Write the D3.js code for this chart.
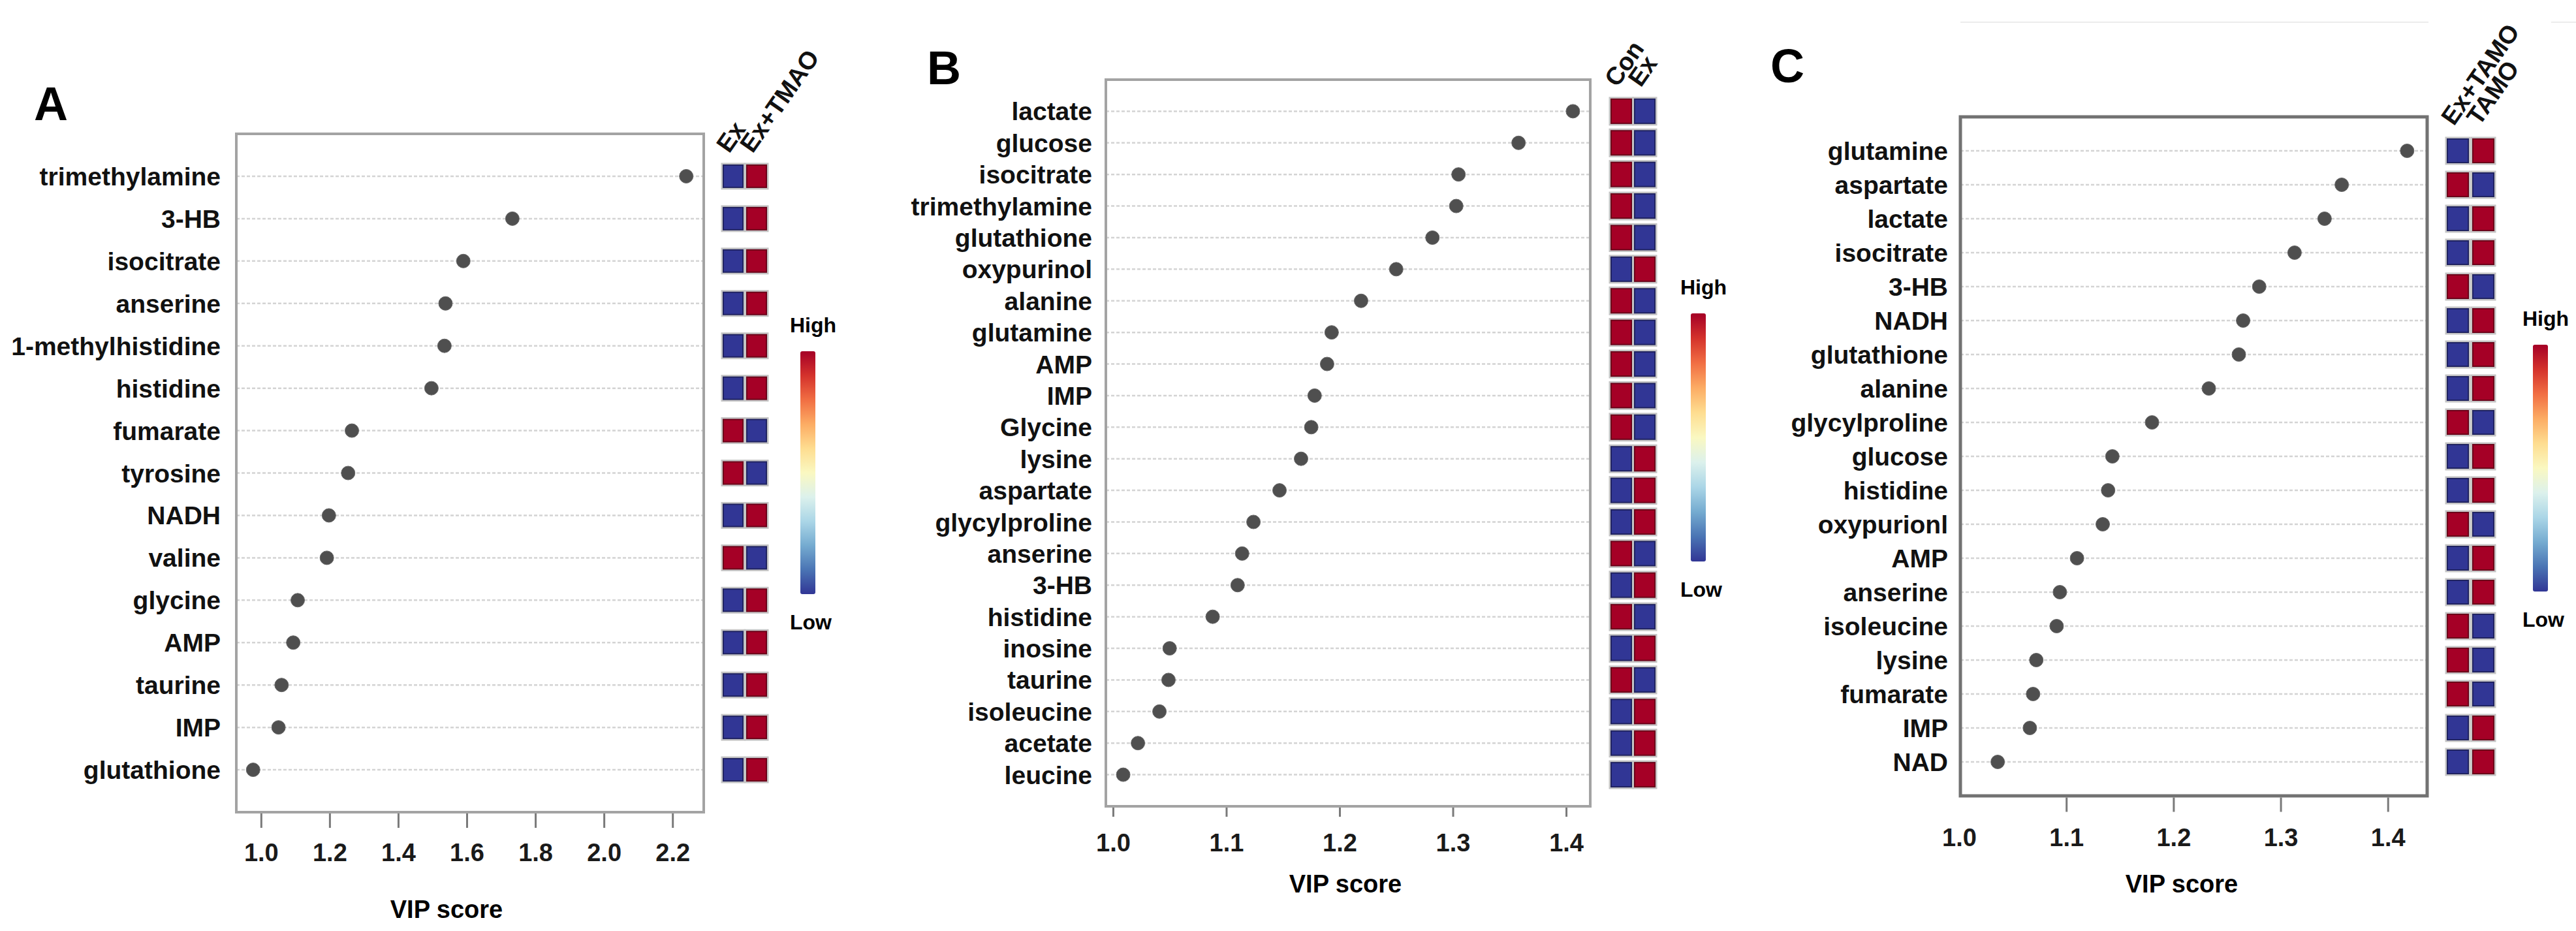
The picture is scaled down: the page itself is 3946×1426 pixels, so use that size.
<!DOCTYPE html>
<html>
<head>
<meta charset="utf-8">
<script src="https://cdn.jsdelivr.net/npm/d3@7"></script>
<style>
  html, body { margin: 0; padding: 0; background: #fff; }
  svg text { font-family: "Liberation Sans", Arial, Helvetica, sans-serif; }
</style>
</head>
<body>
<div id="chart"></div>
<script>
// ---- data ----
// panel A
const namesA = ["trimethylamine", "3-HB", "isocitrate", "anserine", "1-methylhistidine", "histidine",
  "fumarate", "tyrosine", "NADH", "valine", "glycine", "AMP", "taurine", "IMP", "glutathione"];
const vipA = [2.24, 1.733, 1.59, 1.538, 1.535, 1.497, 1.265, 1.254, 1.198, 1.192, 1.107, 1.094, 1.06, 1.051, 0.977];
const groupsA = ["Ex", "Ex+TMAO"];
// 1 = high, 0 = low (per group)
const heatA = [[0,1],[0,1],[0,1],[0,1],[0,1],[0,1],[1,0],[1,0],[0,1],[1,0],[0,1],[0,1],[0,1],[0,1],[0,1]];
const ticksA = [1.0, 1.2, 1.4, 1.6, 1.8, 2.0, 2.2];

// panel B
const namesB = ["lactate", "glucose", "isocitrate", "trimethylamine", "glutathione", "oxypurinol", "alanine",
  "glutamine", "AMP", "IMP", "Glycine", "lysine", "aspartate", "glycylproline", "anserine", "3-HB",
  "histidine", "inosine", "taurine", "isoleucine", "acetate", "leucine"];
const vipB = [1.406, 1.358, 1.305, 1.303, 1.282, 1.250, 1.219, 1.193, 1.189, 1.178, 1.175, 1.166,
  1.147, 1.124, 1.114, 1.110, 1.088, 1.050, 1.049, 1.041, 1.022, 1.009];
const groupsB = ["Con", "Ex"];
const heatB = [[1,0],[1,0],[1,0],[1,0],[1,0],[0,1],[1,0],[1,0],[1,0],[1,0],[1,0],[0,1],[0,1],[0,1],
  [1,0],[0,1],[1,0],[0,1],[1,0],[0,1],[0,1],[0,1]];
const ticksB = [1.0, 1.1, 1.2, 1.3, 1.4];

// panel C
const namesC = ["glutamine", "aspartate", "lactate", "isocitrate", "3-HB", "NADH", "glutathione", "alanine",
  "glycylproline", "glucose", "histidine", "oxypurionl", "AMP", "anserine", "isoleucine", "lysine",
  "fumarate", "IMP", "NAD"];
const vipC = [1.418, 1.357, 1.341, 1.313, 1.280, 1.265, 1.261, 1.233, 1.180, 1.143, 1.139, 1.134,
  1.110, 1.094, 1.091, 1.072, 1.069, 1.066, 1.036];
const groupsC = ["Ex+TAMO", "TAMO"];
const heatC = [[0,1],[1,0],[0,1],[0,1],[1,0],[0,1],[0,1],[0,1],[1,0],[0,1],[0,1],[1,0],[0,1],[0,1],
  [1,0],[1,0],[1,0],[0,1],[0,1]];
const ticksC = [1.0, 1.1, 1.2, 1.3, 1.4];

// ---- layout ----
const width = 3946, height = 1426;

const svg = d3.select("#chart").append("svg")
  .attr("width", width)
  .attr("height", height)
  .attr("viewBox", `0 0 ${width} ${height}`);

const defs = svg.append("defs");
const grad = defs.append("linearGradient")
  .attr("id", "rdylbu")
  .attr("x1", 0).attr("y1", 0).attr("x2", 0).attr("y2", 1);
d3.range(0, 1.0001, 0.1).forEach(t => {
  grad.append("stop").attr("offset", t).attr("stop-color", d3.interpolateRdYlBu(t));
});

const heatColor = v => d3.interpolateRdYlBu(1 - v);

function drawPanel(p) {
  const g = svg.append("g");

  const x = d3.scaleLinear().domain(p.domain).range([p.left, p.right]);
  const y = d3.scalePoint().domain(p.names).range([p.top, p.bottom]).padding(1);

  // panel letter
  g.append("text")
    .attr("x", p.letterX).attr("y", p.letterY)
    .style("font-size", "72px").style("font-weight", "700")
    .text(p.letter);

  // dotted guides
  g.append("g").selectAll("line")
    .data(p.names)
    .join("line")
    .attr("x1", p.left).attr("x2", p.right)
    .attr("y1", d => y(d)).attr("y2", d => y(d))
    .attr("stroke", "#d4d4d4")
    .attr("stroke-width", 2.5)
    .attr("stroke-dasharray", "5,3");

  // frame
  g.append("rect")
    .attr("x", p.left).attr("y", p.top)
    .attr("width", p.right - p.left).attr("height", p.bottom - p.top)
    .attr("fill", "none")
    .attr("stroke", p.frameColor)
    .attr("stroke-width", p.frameWidth);

  // metabolite labels
  g.append("g").selectAll("text")
    .data(p.names)
    .join("text")
    .attr("x", p.left - p.labelGap)
    .attr("y", d => y(d))
    .attr("dy", "0.36em")
    .attr("text-anchor", "end")
    .style("font-size", "39px").style("font-weight", "700")
    .attr("fill", "#111")
    .text(d => d);

  // dots
  g.append("g").selectAll("circle")
    .data(p.vip)
    .join("circle")
    .attr("cx", d => x(d))
    .attr("cy", (d, i) => y(p.names[i]))
    .attr("r", 10.5)
    .attr("fill", "#4f4f4f")
    .attr("stroke", "#666")
    .attr("stroke-width", 1);

  // x axis
  const axis = d3.axisBottom(x)
    .tickValues(p.ticks)
    .tickFormat(d3.format(".1f"))
    .tickSize(p.tickLen)
    .tickPadding(p.tickPad);
  const ax = g.append("g")
    .attr("transform", `translate(0,${p.bottom + p.frameWidth / 2})`)
    .call(axis);
  ax.select(".domain").remove();
  ax.selectAll(".tick line")
    .attr("stroke", "#7a7a7a")
    .attr("stroke-width", 3)
    .attr("opacity", d => (p.hideFirstTick && d === p.ticks[0]) ? 0 : 1);
  ax.selectAll(".tick text")
    .style("font-size", "38px")
    .style("font-weight", "700")
    .style("font-family", "\"Liberation Sans\", Arial, sans-serif")
    .attr("fill", "#1a1a1a");

  g.append("text")
    .attr("x", p.titleX).attr("y", p.titleY)
    .attr("text-anchor", "middle")
    .style("font-size", "38px").style("font-weight", "700")
    .text("VIP score");

  // heat tiles
  const tiles = g.append("g");
  p.heat.forEach((row, i) => {
    row.forEach((v, j) => {
      const tx = p.tileX + j * (p.tileW + p.tileGap);
      const ty = y(p.names[i]) - p.tileH / 2;
      tiles.append("rect")
        .attr("x", tx - 2.5).attr("y", ty - 2.5)
        .attr("width", p.tileW + 5).attr("height", p.tileH + 5)
        .attr("fill", "#c4c4c4");
      tiles.append("rect")
        .attr("x", tx + 1).attr("y", ty + 1)
        .attr("width", p.tileW - 2).attr("height", p.tileH - 2)
        .attr("fill", heatColor(v))
        .attr("stroke", d3.color(heatColor(v)).darker(1.2))
        .attr("stroke-width", 2);
    });
  });

  // group headers
  p.groups.forEach((name, j) => {
    const cx = p.tileX + j * (p.tileW + p.tileGap) + p.tileW / 2;
    g.append("text")
      .attr("transform", `translate(${cx + p.headDx},${y(p.names[0]) - p.tileH / 2 - p.headDy}) rotate(-55)`)
      .style("font-size", "38px")
      .style("font-weight", "700")
      .attr("fill", "#111")
      .text(name);
  });

  // colour key
  g.append("rect")
    .attr("x", p.barX).attr("y", p.barTop)
    .attr("width", 23).attr("height", p.barBottom - p.barTop)
    .attr("rx", 3)
    .attr("fill", "url(#rdylbu)");
  g.append("text")
    .attr("x", p.barX - 16).attr("y", p.barTop - 29)
    .style("font-size", "32px").style("font-weight", "700")
    .text("High");
  g.append("text")
    .attr("x", p.barX - 16).attr("y", p.barBottom + 54)
    .style("font-size", "32px").style("font-weight", "700")
    .text("Low");
}

drawPanel({
  letter: "A", letterX: 52, letterY: 184,
  names: namesA, vip: vipA, heat: heatA, groups: groupsA, ticks: ticksA,
  left: 362, right: 1078, top: 205, bottom: 1244, domain: [0.928, 2.291],
  frameColor: "#a3a3a3", frameWidth: 4, labelGap: 24,
  tickLen: 22, tickPad: 24, hideFirstTick: false,
  titleX: 684, titleY: 1406,
  tileX: 1107, tileW: 32, tileH: 36, tileGap: 4, headDx: -6, headDy: 16,
  barX: 1226, barTop: 538, barBottom: 910
});

drawPanel({
  letter: "B", letterX: 1420, letterY: 129,
  names: namesB, vip: vipB, heat: heatB, groups: groupsB, ticks: ticksB,
  left: 1694, right: 2436, top: 122, bottom: 1235, domain: [0.9937, 1.4213],
  frameColor: "#a3a3a3", frameWidth: 4, labelGap: 21,
  tickLen: 14, tickPad: 26, hideFirstTick: false,
  titleX: 2061, titleY: 1367,
  tileX: 2467, tileW: 33, tileH: 39, tileGap: 3, headDx: -6, headDy: 16,
  barX: 2590, barTop: 480, barBottom: 860
});

drawPanel({
  letter: "C", letterX: 2712, letterY: 126,
  names: namesC, vip: vipC, heat: heatC, groups: groupsC, ticks: ticksC,
  left: 3003, right: 3718, top: 179, bottom: 1219, domain: [1.0012, 1.4367],
  frameColor: "#727272", frameWidth: 5, labelGap: 19,
  tickLen: 22, tickPad: 26, hideFirstTick: true,
  titleX: 3342, titleY: 1367,
  tileX: 3748, tileW: 34, tileH: 38, tileGap: 5, headDx: -6, headDy: 18,
  barX: 3880, barTop: 528, barBottom: 906
});

// faint scan lines above panel C
svg.append("line")
  .attr("x1", 3003).attr("x2", 3720).attr("y1", 34).attr("y2", 34)
  .attr("stroke", "#ececec").attr("stroke-width", 2);
svg.append("line")
  .attr("x1", 3908).attr("x2", 3946).attr("y1", 34).attr("y2", 34)
  .attr("stroke", "#ececec").attr("stroke-width", 2);
</script>
</body>
</html>
